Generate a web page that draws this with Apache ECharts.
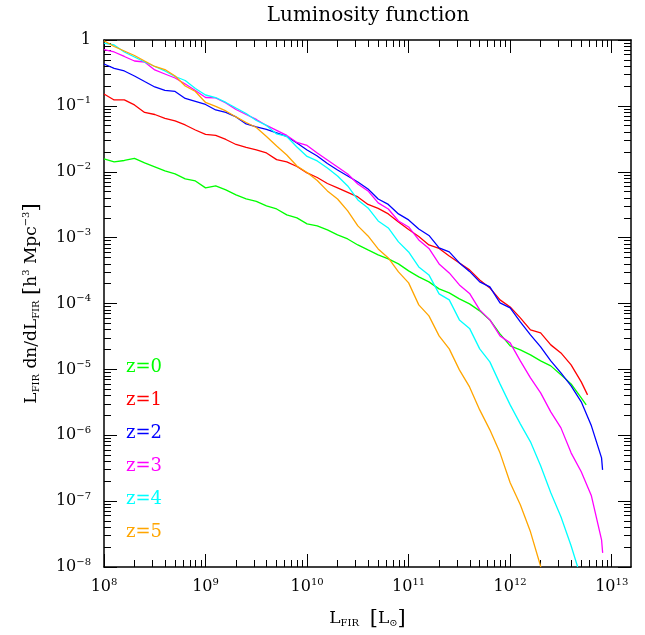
<!DOCTYPE html>
<html><head><meta charset="utf-8">
<script src="https://cdn.jsdelivr.net/npm/echarts@6/dist/echarts.min.js"></script>
<style>html,body{margin:0;padding:0;background:#fff}#c{width:645px;height:635px}</style>
</head><body><div id="c"></div>
<script>
// ---- data (log10 values) ----
const seriesNames = ['z=0', 'z=1', 'z=2', 'z=3', 'z=4', 'z=5'];
const seriesColors = ['#00ff00', '#ff0000', '#0000ff', '#ff00ff', '#00ffff', '#ffa500'];

// log10(L_FIR / L_sun) sampling grid
const logL = [8.0, 8.1, 8.2, 8.3, 8.4, 8.5, 8.6, 8.7, 8.8, 8.9,
  9.0, 9.1, 9.2, 9.3, 9.4, 9.5, 9.6, 9.7, 9.8, 9.9,
  10.0, 10.1, 10.2, 10.3, 10.4, 10.5, 10.6, 10.7, 10.8, 10.9,
  11.0, 11.1, 11.2, 11.3, 11.4, 11.5, 11.6, 11.7, 11.8, 11.9,
  12.0, 12.1, 12.2, 12.3, 12.4, 12.5, 12.6, 12.7, 12.8, 12.9];

// log10(L dn/dL) per redshift
const phiZ0 = [-1.806, -1.851, -1.829, -1.798, -1.866, -1.927, -1.988, -2.033, -2.109, -2.140,
  -2.245, -2.215, -2.276, -2.352, -2.413, -2.451, -2.519, -2.565, -2.655, -2.701,
  -2.792, -2.822, -2.883, -2.959, -3.020, -3.111, -3.187, -3.262, -3.323, -3.399,
  -3.505, -3.596, -3.672, -3.778, -3.839, -3.930, -4.006, -4.112, -4.249, -4.461,
  -4.643, -4.704, -4.780, -4.871, -4.947, -5.083, -5.220, -5.432];
const phiZ1 = [-0.819, -0.910, -0.910, -0.986, -1.100, -1.131, -1.191, -1.229, -1.290, -1.366,
  -1.434, -1.449, -1.510, -1.586, -1.631, -1.669, -1.715, -1.816, -1.851, -1.920,
  -2.018, -2.087, -2.178, -2.246, -2.314, -2.382, -2.496, -2.557, -2.640, -2.762,
  -2.876, -2.982, -3.111, -3.164, -3.278, -3.384, -3.490, -3.642, -3.763, -3.945,
  -4.052, -4.219, -4.401, -4.446, -4.628, -4.750, -4.932, -5.190];
const phiZ2 = [-0.364, -0.432, -0.470, -0.546, -0.630, -0.713, -0.766, -0.781, -0.888, -0.933,
  -0.979, -1.062, -1.100, -1.168, -1.275, -1.320, -1.358, -1.411, -1.464, -1.563,
  -1.669, -1.760, -1.874, -1.973, -2.064, -2.155, -2.261, -2.413, -2.496, -2.640,
  -2.731, -2.868, -2.967, -3.156, -3.217, -3.384, -3.513, -3.672, -3.748, -3.991,
  -4.067, -4.279, -4.476, -4.659, -4.871, -5.053, -5.250, -5.493, -5.857, -6.343];
const phiZ3 = [-0.147, -0.182, -0.250, -0.319, -0.334, -0.455, -0.516, -0.577, -0.668, -0.766,
  -0.873, -0.880, -0.956, -1.055, -1.131, -1.206, -1.297, -1.373, -1.449, -1.555,
  -1.601, -1.715, -1.821, -1.927, -2.033, -2.185, -2.291, -2.473, -2.565, -2.747,
  -2.838, -3.035, -3.164, -3.399, -3.536, -3.718, -3.847, -4.097, -4.249, -4.492,
  -4.598, -4.871, -5.129, -5.357, -5.645, -5.888, -6.267, -6.555, -6.920, -7.587];
const phiZ4 = [-0.046, -0.076, -0.182, -0.258, -0.334, -0.402, -0.470, -0.554, -0.615, -0.736,
  -0.835, -0.873, -0.948, -1.032, -1.115, -1.222, -1.297, -1.426, -1.464, -1.624,
  -1.768, -1.836, -1.942, -2.064, -2.215, -2.428, -2.549, -2.747, -2.853, -3.065,
  -3.217, -3.445, -3.566, -3.854, -3.945, -4.249, -4.378, -4.689, -4.886, -5.220,
  -5.539, -5.827, -6.100, -6.464, -6.874, -7.238, -7.678];
const phiZ5 = [-0.011, -0.099, -0.167, -0.235, -0.319, -0.402, -0.448, -0.546, -0.698, -0.781,
  -0.948, -1.009, -1.077, -1.168, -1.252, -1.328, -1.464, -1.608, -1.745, -1.912,
  -2.011, -2.132, -2.291, -2.413, -2.595, -2.822, -2.974, -3.171, -3.308, -3.520,
  -3.687, -4.021, -4.188, -4.492, -4.689, -5.008, -5.266, -5.615, -5.918, -6.267,
  -6.722, -7.056, -7.466];
// last point of each curve
const endLogL = [12.749, 12.762, 12.910, 12.911, 12.665, 12.302];
const endLogPhi = [-5.539, -5.387, -6.525, -7.785, -8.0, -8.0];

// axis ticks (decades)
const xDecades = [8, 9, 10, 11, 12, 13];
const yDecades = [0, -1, -2, -3, -4, -5, -6, -7, -8];
const xMin = 8, xMax = 13.19, yMin = -8, yMax = 0;

// ---- chart ----
const FONT = 'DejaVu Serif';
const allPhi = [phiZ0, phiZ1, phiZ2, phiZ3, phiZ4, phiZ5];

function minorTicks(decs, lo, hi) {
  const out = [];
  decs.forEach(d => {
    for (let k = 2; k <= 9; k++) {
      const v = d + Math.log10(k);
      if (v > lo + 1e-9 && v < hi - 1e-9) out.push(v);
    }
  });
  return out;
}
const xMinor = minorTicks(xDecades, xMin, xMax);
const yMinor = minorTicks(yDecades, yMin, yMax);

const lineStyleAxis = { color: '#000', width: 1.5 };
const tickStyle = { color: '#000', width: 1 };

function xAxisDef(position, values, len, showLine, labels) {
  const a = {
    type: 'value', min: xMin, max: xMax, position: position,
    axisLine: { show: showLine, onZero: false, lineStyle: lineStyleAxis },
    axisTick: { show: true, inside: true, length: len, lineStyle: tickStyle, customValues: values },
    axisLabel: { show: false },
    splitLine: { show: false }
  };
  if (labels) {
    a.axisLabel = {
      show: true, margin: 10, customValues: xDecades,
      formatter: v => '{b|10}{s|' + Math.round(v) + '}',
      rich: {
        b: { fontFamily: FONT, fontSize: 16, color: '#000' },
        s: { fontFamily: FONT, fontSize: 10, color: '#000', padding: [0, 0, 10, 0] }
      }
    };
    a.name = '{b|L}{sub|FIR}{b|  }{br|[}{b|L}{sub|⊙}{br|]}';
    a.nameLocation = 'middle';
    a.nameGap = 41;
    a.nameTextStyle = {
      rich: {
        b: { fontFamily: FONT, fontSize: 17, color: '#000' },
        br: { fontFamily: FONT, fontSize: 21, color: '#000' },
        sub: { fontFamily: FONT, fontSize: 10, color: '#000', padding: [10, 0, 0, 0] }
      }
    };
  }
  return a;
}
function yAxisDef(position, values, len, showLine, labels) {
  const a = {
    type: 'value', min: yMin, max: yMax, position: position,
    axisLine: { show: showLine, onZero: false, lineStyle: lineStyleAxis },
    axisTick: { show: true, inside: true, length: len, lineStyle: tickStyle, customValues: values },
    axisLabel: { show: false },
    splitLine: { show: false }
  };
  if (labels) {
    a.axisLabel = {
      show: true, margin: 13, customValues: yDecades,
      formatter: v => Math.round(v) === 0 ? '{b|1}' : '{b|10}{s|\u2212' + Math.round(-v) + '}',
      rich: {
        b: { fontFamily: FONT, fontSize: 16, color: '#000' },
        s: { fontFamily: FONT, fontSize: 10, color: '#000', padding: [0, 0, 10, 0] }
      }
    };
    a.name = '{b|L}{sub|FIR}{b| dn/dL}{sub|FIR}{b| }{br|[}{b|h}{sup|3}{b| Mpc}{sup|\u22123}{br|]}';
    a.nameLocation = 'middle';
    a.nameGap = 62;
    a.nameTextStyle = {
      rich: {
        b: { fontFamily: FONT, fontSize: 17, color: '#000' },
        br: { fontFamily: FONT, fontSize: 21, color: '#000' },
        sub: { fontFamily: FONT, fontSize: 10, color: '#000', padding: [10, 0, 0, 0] },
        sup: { fontFamily: FONT, fontSize: 10, color: '#000', padding: [0, 0, 10, 0] }
      }
    };
  }
  return a;
}

const series = seriesNames.map((name, i) => {
  const phi = allPhi[i];
  const data = phi.map((p, k) => [logL[k], p]);
  data.push([endLogL[i], endLogPhi[i]]);
  return {
    name: name, type: 'line', xAxisIndex: 0, yAxisIndex: 0,
    data: data, showSymbol: false, symbol: 'none', clip: true,
    lineStyle: { color: seriesColors[i], width: 1.3 },
    itemStyle: { color: seriesColors[i] },
    emphasis: { disabled: true }
  };
});

const chart = echarts.init(document.getElementById('c'), null, { renderer: 'canvas' });
chart.setOption({
  animation: false,
  backgroundColor: '#fff',
  title: {
    text: 'Luminosity function', left: 363, top: 1, textAlign: 'center',
    textStyle: { fontFamily: FONT, fontSize: 20, fontWeight: 'normal', color: '#000' }
  },
  legend: {
    orient: 'vertical', left: 116, top: 352, itemWidth: 0, itemHeight: 0, itemGap: 13,
    selectedMode: false, icon: 'rect',
    textStyle: { fontFamily: FONT, fontSize: 18, lineHeight: 20 },
    data: seriesNames.map((n, i) => ({ name: n, textStyle: { color: seriesColors[i] } }))
  },
  grid: { left: 104, right: 14, top: 40, bottom: 68, containLabel: false },
  xAxis: [
    xAxisDef('bottom', xDecades, 13, true, true),
    xAxisDef('bottom', xMinor, 7, false, false),
    xAxisDef('top', xDecades, 13, true, false),
    xAxisDef('top', xMinor, 7, false, false)
  ],
  yAxis: [
    yAxisDef('left', yDecades, 13, true, true),
    yAxisDef('left', yMinor, 7, false, false),
    yAxisDef('right', yDecades, 13, true, false),
    yAxisDef('right', yMinor, 7, false, false)
  ],
  series: series
});
</script></body></html>
